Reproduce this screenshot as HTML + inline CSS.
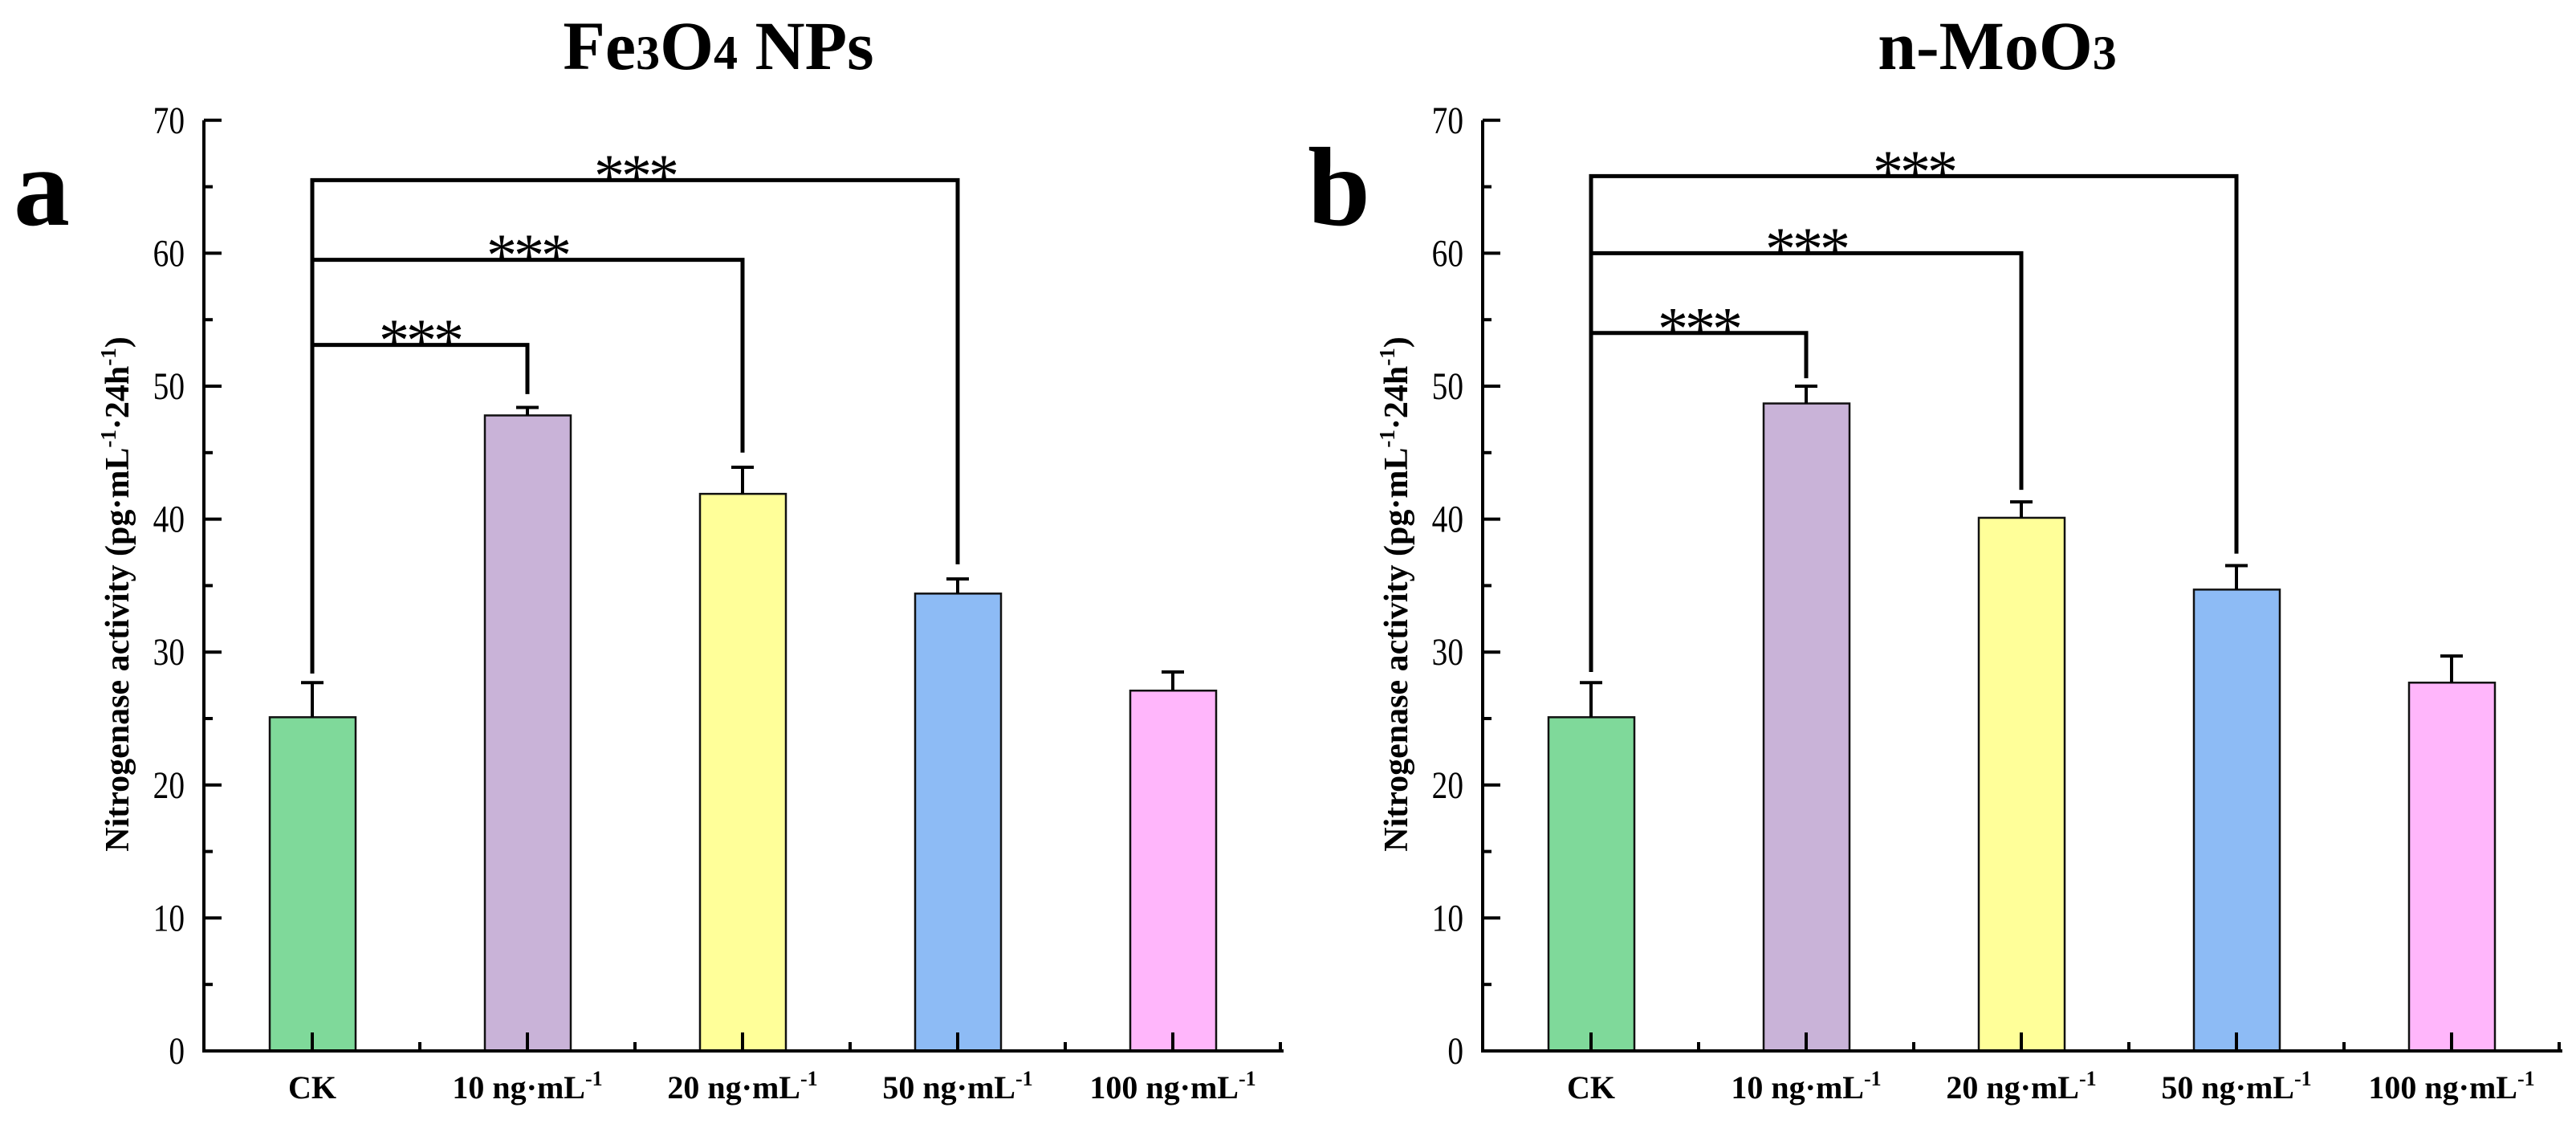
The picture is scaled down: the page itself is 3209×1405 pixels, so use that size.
<!DOCTYPE html>
<html><head><meta charset="utf-8"><style>
body{margin:0;background:#fff}
svg{display:block}
text{font-family:"Liberation Serif",serif}
</style></head><body>
<svg id="chart" width="3209" height="1405" viewBox="0 0 3209 1405" xmlns="http://www.w3.org/2000/svg"></svg>
<script>
const categories = ["CK","10","20","50","100"];
const seriesA = [25.1,47.8,41.9,34.4,27.1];
const errA = [2.6,0.6,2.0,1.1,1.4];
const seriesB = [25.1,48.7,40.1,34.7,27.7];
const errB = [2.6,1.3,1.2,1.8,2.0];
const yTicks = [0,10,20,30,40,50,60,70];
const bracketsA = [[1,53.1,28.4,49.4],[2,59.5,28.4,45.0],[3,65.5,28.4,36.6]];
const bracketsB = [[1,54.0,28.5,50.6],[2,60.0,28.5,42.2],[3,65.8,28.5,37.4]];
const colors = ["#7fd99a","#c9b3d8","#ffff99","#8dbbf5","#ffb6fb"];

const NS="http://www.w3.org/2000/svg";
const svg=document.getElementById('chart');
function mk(tag,attrs,parent){const e=document.createElementNS(NS,tag);for(const k in attrs)e.setAttribute(k,attrs[k]);(parent||svg).appendChild(e);return e;}

function panel(ox, vals, errs, brackets, key){
  const g=mk('g',{});
  
  
  const x0=254+ox, y0=1309, ppu=16.56, step=268, xc0=389+ox;
  const X=i=>xc0+i*step, Y=v=>y0-v*ppu;
  vals.forEach((v,i)=>{
    const r=mk('rect',{x:X(i)-53,y:Y(v),width:107,height:y0-Y(v),fill:colors[i],stroke:'#111','stroke-width':2.5},g);
    
    
    const e=mk('path',{d:`M${X(i)} ${Y(v)}V${Y(v+errs[i])}M${X(i)-14} ${Y(v+errs[i])}H${X(i)+14}`,stroke:'#000','stroke-width':4,fill:'none'},g);
    
    
  });
  const xEnd=xc0+4.5*step+4;
  const ax=mk('path',{d:`M${x0} ${Y(70)}V${y0}H${xEnd}`,stroke:'#000','stroke-width':4,fill:'none'},g);
  
  
  yTicks.forEach(t=>{
    mk('line',{x1:x0,x2:x0+22,y1:Y(t),y2:Y(t),stroke:'#000','stroke-width':4},g);
    if(t<70) mk('line',{x1:x0,x2:x0+11,y1:Y(t+5),y2:Y(t+5),stroke:'#000','stroke-width':4},g);
    const tl=mk('text',{x:x0-24,y:Y(t)+16,'text-anchor':'end','font-size':48,transform:`translate(${x0-24} 0) scale(0.82 1) translate(${-(x0-24)} 0)`},g);
    tl.textContent=t;
    
    
  });
  categories.forEach((c,i)=>{
    mk('line',{x1:X(i),x2:X(i),y1:y0,y2:y0-23,stroke:'#000','stroke-width':4},g);
    mk('line',{x1:X(i)+134,x2:X(i)+134,y1:y0,y2:y0-11,stroke:'#000','stroke-width':4},g);
    const tl=mk('text',{x:X(i),y:1368,'text-anchor':'middle','font-size':40,'font-weight':'bold'},g);
    
    
    if(c==="CK"){tl.textContent="CK";}
    else{
      tl.appendChild(document.createTextNode(c+" ng·mL"));
      const s=mk('tspan',{'font-size':26,dy:-16},tl);s.textContent="-1";
    }
  });
  brackets.forEach(b=>{
    const [j,top,lb,rb]=b;
    const p=mk('path',{d:`M${X(0)} ${Y(lb)}V${Y(top)}H${X(j)}V${Y(rb)}`,stroke:'#000','stroke-width':5,fill:'none'},g);
    
    
    const st=mk('text',{x:(X(0)+X(j))/2,y:Y(top)+20,'text-anchor':'middle','font-size':76,'font-family':'"Liberation Sans",sans-serif','letter-spacing':'-4'},g);
    st.textContent="***";
    
    
  });
  const yt=mk('text',{x:0,y:0,'text-anchor':'middle','font-size':42,'font-weight':'bold',transform:`translate(${160+ox} 740) rotate(-90)`},g);
  
  
  yt.appendChild(document.createTextNode("Nitrogenase activity (pg·mL"));
  let s=mk('tspan',{'font-size':27,dy:-16},yt);s.textContent="-1";
  s=mk('tspan',{dy:16},yt);s.textContent="·24h";
  s=mk('tspan',{'font-size':27,dy:-16},yt);s.textContent="-1";
  s=mk('tspan',{dy:16},yt);s.textContent=")";
  const tt=mk('text',{x:X(2)-30,y:86,'text-anchor':'middle','font-size':86,'font-weight':'bold'},g);
  
  
  return {tt,g};
}
const a=panel(0,seriesA,errA,bracketsA,"a");
a.tt.innerHTML='Fe<tspan font-size="60">3</tspan>O<tspan font-size="60">4</tspan> NPs';
const b=panel(1593,seriesB,errB,bracketsB,"b");
b.tt.innerHTML='n-MoO<tspan font-size="60">3</tspan>';
const la=mk('text',{x:52,y:280,'text-anchor':'middle','font-size':140,'font-weight':'bold'});
la.textContent="a";


const lb=mk('text',{x:1668,y:280,'text-anchor':'middle','font-size':140,'font-weight':'bold'});
lb.textContent="b";


</script>
</body></html>
